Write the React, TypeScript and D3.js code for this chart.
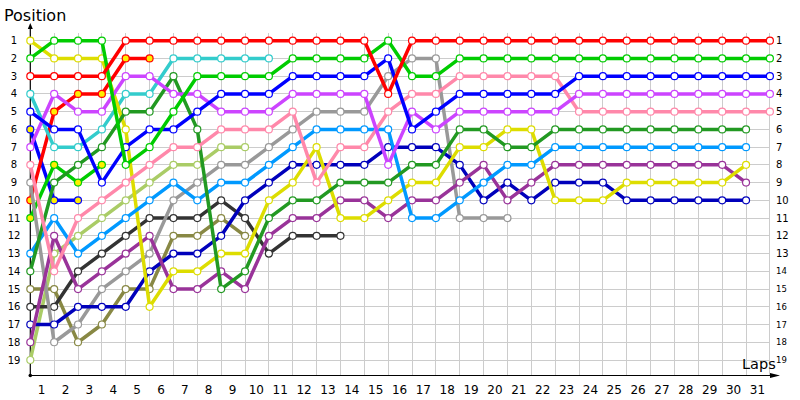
import React from "react";
import * as d3 from "d3";

// ---- data (positions by lap, index 0 = grid / lap 0) ----
const LAP_TICKS = d3.range(1, 32);
const POSITION_TICKS = d3.range(1, 20);

const redPos = [3,3,3,3,1,1,1,1,1,1,1,1,1,1,1,4,1,1,1,1,1,1,1,1,1,1,1,1,1,1,1,1];
const greenPos = [2,1,1,1,8,7,5,3,3,3,3,2,2,2,2,1,3,3,2,2,2,2,2,2,2,2,2,2,2,2,2,2];
const bluePos = [5,6,6,9,7,6,6,5,4,4,4,3,3,3,3,2,6,5,4,4,4,4,4,3,3,3,3,3,3,3,3,3];
const violetPos = [7,4,5,5,3,3,4,4,5,5,5,4,4,4,4,8,5,6,5,5,5,5,5,4,4,4,4,4,4,4,4,4];
const pinkPos = [8,14,11,10,9,8,7,7,6,6,6,5,9,7,7,5,4,4,3,3,3,3,3,5,5,5,5,5,5,5,5,5];
const darkGreenPos = [14,9,8,7,5,5,3,6,15,14,11,10,10,9,9,9,8,8,6,6,7,7,6,6,6,6,6,6,6,6,6];
const lightBluePos = [13,11,13,12,11,10,9,10,9,9,8,7,6,6,6,6,11,11,10,9,8,8,7,7,7,7,7,7,7,7,7];
const yellowPos = [1,2,2,2,6,16,14,14,13,13,10,9,7,11,11,10,9,9,7,7,6,6,10,10,10,9,9,9,9,9,8];
const darkPurplePos = [18,12,15,14,13,12,15,15,14,15,12,11,11,10,10,11,10,10,9,8,10,9,8,8,8,8,8,8,8,8,9];
const navyPos = [17,17,16,16,16,14,13,13,12,10,9,8,8,8,8,7,7,7,8,10,9,10,9,9,9,10,10,10,10,10,10];
const grayPos = [9,18,17,15,14,13,10,9,8,8,7,6,5,5,5,3,2,2,11,11,11];
const darkGrayPos = [16,16,14,13,12,11,11,11,10,11,13,12,12,12];
const cyanPos = [4,7,7,6,4,4,2,2,2,2,2];
const lightGreenPos = [19,13,12,11,10,9,8,8,7,7];
const olivePos = [15,15,18,17,15,15,12,12,11,12];
const red2Pos = [10,5,4,4,2,2];
const green2Pos = [11,8,9,8];
const blue2Pos = [6,10,10];

// draw order (first = bottom)
const drivers = [
  { pos: blue2Pos, color: "#0000ff", filled: true },
  { pos: green2Pos, color: "#00cc00", filled: true },
  { pos: red2Pos, color: "#ff0000", filled: true },
  { pos: olivePos, color: "#888844", filled: false },
  { pos: lightGreenPos, color: "#aacc66", filled: false },
  { pos: cyanPos, color: "#33cccc", filled: false },
  { pos: darkGrayPos, color: "#333333", filled: false },
  { pos: grayPos, color: "#999999", filled: false },
  { pos: navyPos, color: "#0000bb", filled: false },
  { pos: darkPurplePos, color: "#993399", filled: false },
  { pos: yellowPos, color: "#dddd00", filled: false },
  { pos: lightBluePos, color: "#0099ff", filled: false },
  { pos: darkGreenPos, color: "#229922", filled: false },
  { pos: pinkPos, color: "#ff88aa", filled: false },
  { pos: violetPos, color: "#cc44ff", filled: false },
  { pos: bluePos, color: "#0000ff", filled: false },
  { pos: greenPos, color: "#00cc00", filled: false },
  { pos: redPos, color: "#ff0000", filled: false },
];

const W = 800;
const H = 400;
const FONT = "'DejaVu Sans', Verdana, sans-serif";

export default function App() {
  const x = d3.scaleLinear().domain([0, 31]).range([30.3, 769.9]);
  const y = d3.scaleLinear().domain([1, 19]).range([40.7, 360]);
  const axisY = 375.5;
  const line = d3
    .line<number>()
    .x((_, i) => x(i))
    .y((d) => y(d));

  return (
    <svg
      width={W}
      height={H}
      style={{ position: "absolute", left: 0, top: 0, background: "#fff" }}
      fontFamily={FONT}
    >
      {/* grid */}
      <g stroke="#cccccc" strokeWidth={1} shapeRendering="crispEdges">
        {LAP_TICKS.map((l) => (
          <line key={"v" + l} x1={x(l)} x2={x(l)} y1={33} y2={axisY} />
        ))}
        {POSITION_TICKS.map((p) => (
          <line key={"h" + p} x1={x(0)} x2={x(31)} y1={y(p)} y2={y(p)} />
        ))}
      </g>

      {/* axes */}
      <g stroke="#000" strokeWidth={1.2}>
        <line x1={x(0)} x2={x(0)} y1={26} y2={axisY} />
        <line x1={x(0)} x2={772} y1={axisY} y2={axisY} />
      </g>
      <path d={`M${x(0) - 2.5},${29} L${x(0)},${23} L${x(0) + 2.5},${29} Z`} fill="#000" />
      <path d={`M770,${axisY - 2.5} L780,${axisY} L770,${axisY + 2.5} Z`} fill="#000" />
      <circle cx={x(0)} cy={axisY} r={1.8} fill="#000" />

      {/* left position labels */}
      {POSITION_TICKS.map((p) => (
        <text key={"l" + p} x={14} y={y(p) + 3.5} fontSize={10} textAnchor="middle" fill="#000">
          {p}
        </text>
      ))}
      {/* right position labels */}
      {POSITION_TICKS.map((p) => (
        <text
          key={"r" + p}
          x={776}
          y={y(p) + (p > 13 ? 3 : 3.5)}
          fontSize={p > 13 ? 8.5 : 10}
          textAnchor="start"
          fill="#000"
        >
          {p}
        </text>
      ))}
      {/* lap labels */}
      {LAP_TICKS.map((l) => (
        <text key={"x" + l} x={x(l) - 12.5} y={393.5} fontSize={12} textAnchor="middle" fill="#000">
          {l}
        </text>
      ))}

      <text x={4} y={21} fontSize={16} fill="#000">Position</text>
      <text x={742} y={369} fontSize={14.5} fill="#000">Laps</text>

      {/* series */}
      {drivers.map((d, di) => (
        <g key={"d" + di}>
          <path d={line(d.pos) || ""} fill="none" stroke={d.color} strokeWidth={3.5} strokeLinejoin="round" />
          {d.pos.map((p, i) => (
            <circle
              key={i}
              cx={x(i)}
              cy={y(p)}
              r={3.5}
              fill={d.filled ? "#ffee00" : "#ffffff"}
              stroke={d.color}
              strokeWidth={1.2}
            />
          ))}
        </g>
      ))}
    </svg>
  );
}
